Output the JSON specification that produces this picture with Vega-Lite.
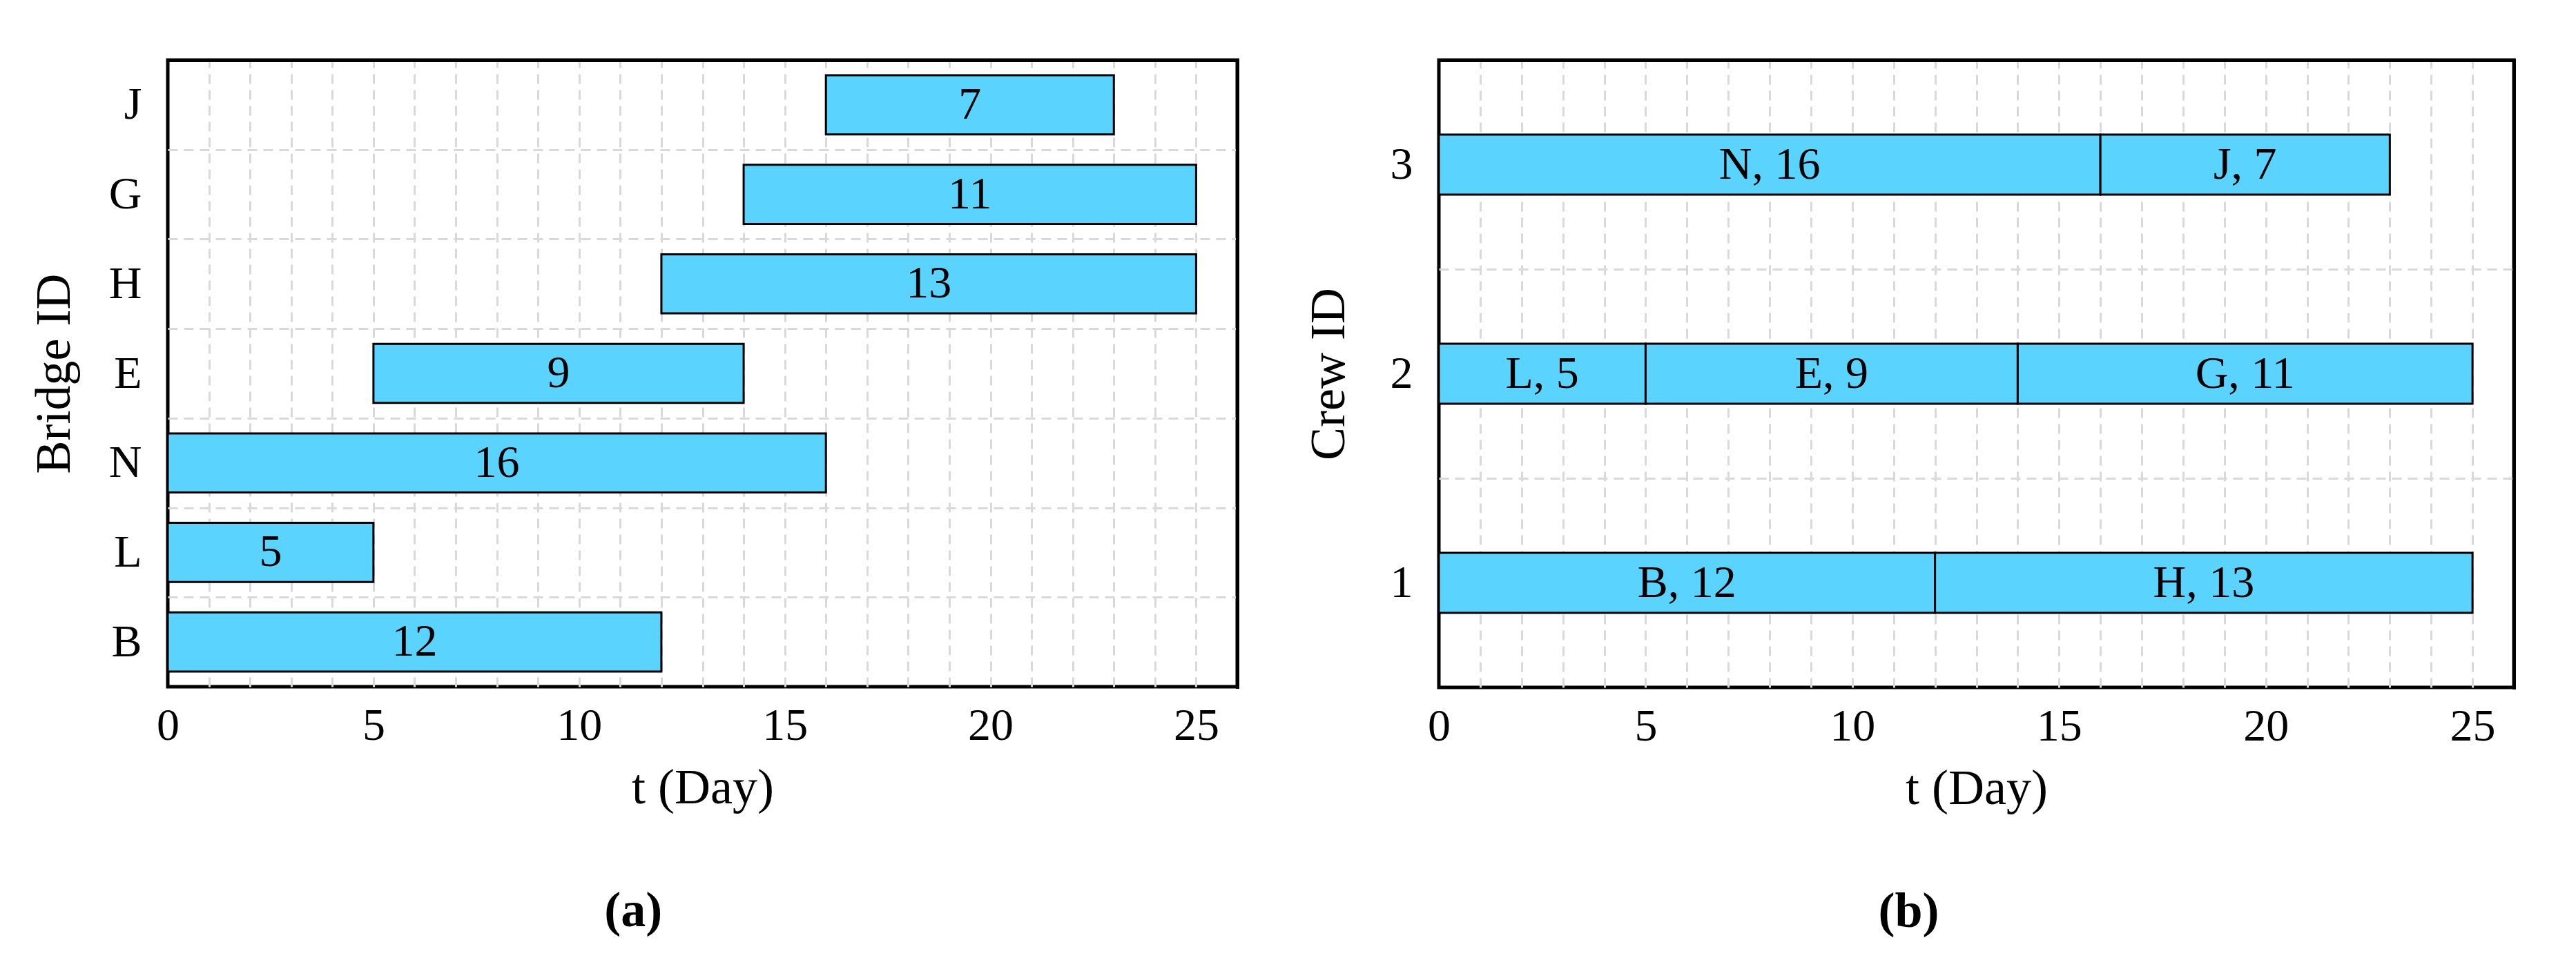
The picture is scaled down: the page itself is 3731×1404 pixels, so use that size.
{
  "$schema": "https://vega.github.io/schema/vega-lite/v6.json",
  "background": "white",
  "padding": {"left": 39, "top": 51, "right": 10, "bottom": 10},
  "spacing": 90,
  "config": {
    "font": "Liberation Serif",
    "view": {"stroke": "black", "strokeWidth": 5},
    "axis": {
      "labelFont": "Liberation Serif",
      "labelFontSize": 66,
      "labelColor": "black",
      "titleFont": "Liberation Serif",
      "titleFontSize": 72,
      "titleFontWeight": "normal",
      "titleColor": "black",
      "domain": false,
      "ticks": false,
      "grid": true,
      "gridColor": "#d9d9d9",
      "gridDash": [14, 9],
      "gridWidth": 3,
      "labelOverlap": false,
      "labelFlush": false
    },
    "title": {
      "font": "Liberation Serif",
      "fontSize": 72,
      "fontWeight": "bold",
      "color": "black",
      "orient": "bottom",
      "frame": "bounds",
      "anchor": "middle",
      "offset": 108
    }
  },
  "data": {
    "values": [
      {"bridge": "B", "crew": "1", "start": 0, "end": 12, "days": 12, "label": "B, 12"},
      {"bridge": "H", "crew": "1", "start": 12, "end": 25, "days": 13, "label": "H, 13"},
      {"bridge": "L", "crew": "2", "start": 0, "end": 5, "days": 5, "label": "L, 5"},
      {"bridge": "E", "crew": "2", "start": 5, "end": 14, "days": 9, "label": "E, 9"},
      {"bridge": "G", "crew": "2", "start": 14, "end": 25, "days": 11, "label": "G, 11"},
      {"bridge": "N", "crew": "3", "start": 0, "end": 16, "days": 16, "label": "N, 16"},
      {"bridge": "J", "crew": "3", "start": 16, "end": 23, "days": 7, "label": "J, 7"}
    ]
  },
  "hconcat": [
    {
      "width": 1549,
      "height": 908,
      "title": {"text": "(a)"},
      "resolve": {"axis": {"x": "independent", "y": "independent"}},
      "layer": [
        {
          "mark": {"type": "bar", "fill": "#5BD3FF", "stroke": "black", "strokeWidth": 3, "height": {"band": 0.66}},
          "encoding": {
            "y": {
              "field": "bridge",
              "type": "nominal",
              "sort": ["J", "G", "H", "E", "N", "L", "B"],
              "scale": {"paddingInner": 0, "paddingOuter": 0},
              "axis": {"title": "Bridge ID", "orient": "left", "tickBand": "extent", "labelPadding": 38, "titlePadding": 42,
                "gridOpacity": {"condition": {"test": "datum.value == null || datum.value === 'B'", "value": 0}, "value": 1}}
            },
            "x": {
              "field": "start",
              "type": "quantitative",
              "scale": {"domain": [0, 26], "nice": false, "zero": false},
              "axis": {"title": "t (Day)", "orient": "bottom", "values": [0,1,2,3,4,5,6,7,8,9,10,11,12,13,14,15,16,17,18,19,20,21,22,23,24,25], "labelExpr": "datum.value % 5 === 0 ? datum.label : ''", "labelPadding": 24, "titlePadding": 22,
                "gridOpacity": {"condition": {"test": "datum.value === 0", "value": 0}, "value": 1}}
            },
            "x2": {"field": "end"}
          }
        },
        {
          "transform": [
            {"fold": ["start", "end"], "as": ["k", "v"]},
            {"aggregate": [{"op": "mean", "field": "v", "as": "mid"}], "groupby": ["bridge", "days"]}
          ],
          "mark": {"type": "text", "fontSize": 66, "font": "Liberation Serif", "color": "black", "align": "center", "baseline": "middle"},
          "encoding": {
            "y": {
              "field": "bridge",
              "type": "nominal",
              "sort": ["J", "G", "H", "E", "N", "L", "B"],
              "axis": {"title": null, "orient": "right", "grid": false, "labels": false, "domain": true, "domainColor": "black", "domainWidth": 5, "domainCap": "square", "zindex": 2}
            },
            "x": {
              "field": "mid",
              "type": "quantitative",
              "axis": {"title": null, "orient": "top", "grid": false, "labels": false, "domain": true, "domainColor": "black", "domainWidth": 5, "domainCap": "square", "zindex": 2}
            },
            "text": {"field": "days", "type": "quantitative"}
          }
        }
      ]
    },
    {
      "width": 1557,
      "height": 909,
      "title": {"text": "(b)"},
      "resolve": {"axis": {"x": "independent", "y": "independent"}},
      "layer": [
        {
          "mark": {"type": "bar", "fill": "#5BD3FF", "stroke": "black", "strokeWidth": 3, "height": {"band": 0.287}},
          "encoding": {
            "y": {
              "field": "crew",
              "type": "nominal",
              "sort": "descending",
              "scale": {"paddingInner": 0, "paddingOuter": 0},
              "axis": {"title": "Crew ID", "orient": "left", "tickBand": "extent", "labelPadding": 38, "titlePadding": 52,
                "gridOpacity": {"condition": {"test": "datum.value == null || datum.value === '1'", "value": 0}, "value": 1}}
            },
            "x": {
              "field": "start",
              "type": "quantitative",
              "scale": {"domain": [0, 26], "nice": false, "zero": false},
              "axis": {"title": "t (Day)", "orient": "bottom", "values": [0,1,2,3,4,5,6,7,8,9,10,11,12,13,14,15,16,17,18,19,20,21,22,23,24,25], "labelExpr": "datum.value % 5 === 0 ? datum.label : ''", "labelPadding": 24, "titlePadding": 22,
                "gridOpacity": {"condition": {"test": "datum.value === 0", "value": 0}, "value": 1}}
            },
            "x2": {"field": "end"}
          }
        },
        {
          "transform": [
            {"fold": ["start", "end"], "as": ["k", "v"]},
            {"aggregate": [{"op": "mean", "field": "v", "as": "mid"}], "groupby": ["crew", "label"]}
          ],
          "mark": {"type": "text", "fontSize": 66, "font": "Liberation Serif", "color": "black", "align": "center", "baseline": "middle"},
          "encoding": {
            "y": {
              "field": "crew",
              "type": "nominal",
              "sort": "descending",
              "axis": {"title": null, "orient": "right", "grid": false, "labels": false, "domain": true, "domainColor": "black", "domainWidth": 5, "domainCap": "square", "zindex": 2}
            },
            "x": {
              "field": "mid",
              "type": "quantitative",
              "axis": {"title": null, "orient": "top", "grid": false, "labels": false, "domain": true, "domainColor": "black", "domainWidth": 5, "domainCap": "square", "zindex": 2}
            },
            "text": {"field": "label", "type": "nominal"}
          }
        }
      ]
    }
  ]
}
